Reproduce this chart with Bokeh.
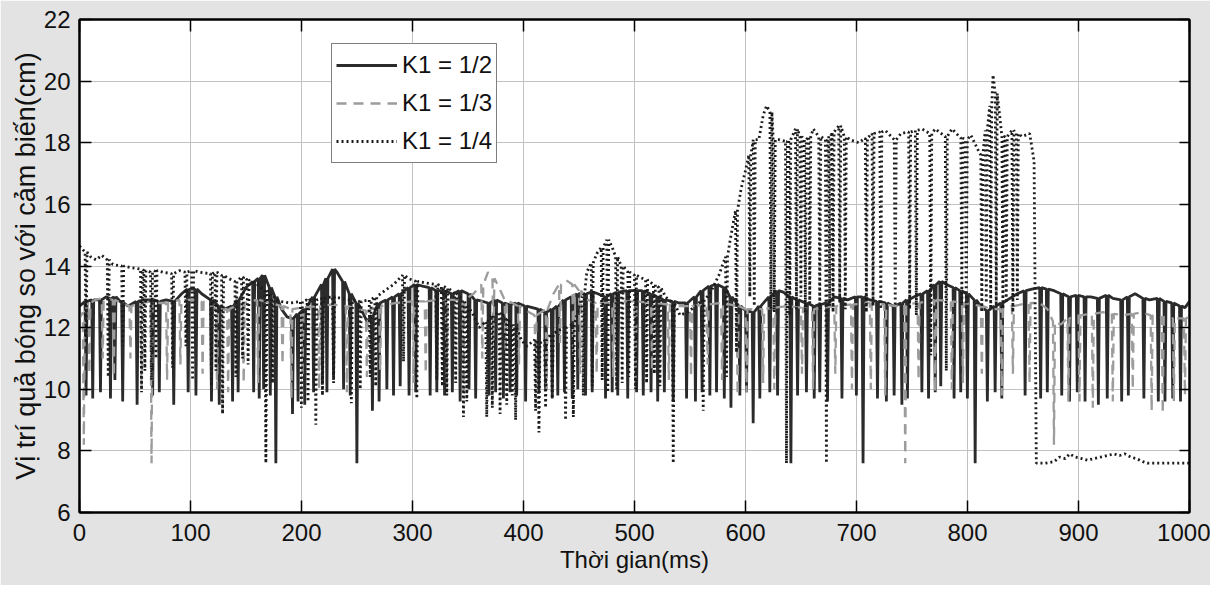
from bokeh.plotting import figure
from bokeh.models import LinearAxis, Range1d, Legend, LegendItem, FixedTicker
from bokeh.embed import file_html
from bokeh.resources import INLINE

# ---------------- data ----------------
x_ticks = [0, 100, 200, 300, 400, 500, 600, 700, 800, 900, 1000]
y_ticks = [6, 8, 10, 12, 14, 16, 18, 20, 22]
series_names = ["K1 = 1/2", "K1 = 1/3", "K1 = 1/4"]

# K1 = 1/2 : time (ms), upper value, dip bottom (None = no dip)
s1_t = [0, 5, 11, 18, 24, 27, 31, 38, 44, 51, 58, 65, 71, 78, 84, 92, 97, 104, 110, 118,
        125, 131, 137, 142, 150, 156, 161, 165, 171, 176, 182, 187, 191, 196, 202, 210, 218, 222, 228, 232,
        237, 243, 249, 255, 259, 263, 269, 276, 282, 288, 296, 302, 309, 315, 321, 328, 335, 342, 350, 356,
        363, 368, 374, 381, 387, 393, 401, 408, 413, 419, 425, 430, 436, 443, 448, 455, 461, 467, 473, 479,
        484, 493, 501, 507, 514, 520, 526, 534, 540, 546, 554, 560, 567, 573, 580, 586, 594, 600, 606, 612,
        621, 628, 634, 640, 646, 654, 661, 666, 673, 680, 686, 692, 699, 705, 712, 718, 726, 733, 740, 745,
        752, 758, 764, 770, 775, 781, 787, 793, 799, 806, 812, 817, 824, 830, 836, 845, 851, 858, 865, 871,
        878, 884, 891, 898, 905, 911, 917, 925, 931, 938, 944, 951, 958, 964, 971, 977, 984, 991, 996, 1000]
s1_top = [12.7, 12.85, 12.9, 12.9, 13.0, 12.95, 13.0, 12.8, 12.7, 12.85, 12.9, 12.9, 12.85, 12.9, 12.85, 13.1, 13.25, 13.25, 13.1, 12.9,
          12.7, 12.6, 12.7, 12.9, 13.3, 13.5, 13.6, 13.7, 13.3, 13.0, 12.6, 12.35, 12.3, 12.45, 12.6, 13.0, 13.4, 13.6, 13.9, 13.8,
          13.5, 13.1, 12.8, 12.5, 12.2, 12.4, 12.8, 12.9, 13.0, 13.1, 13.3, 13.4, 13.35, 13.3, 13.2, 13.2, 13.1, 13.2, 13.1, 12.9,
          12.85, 12.8, 12.9, 12.8, 12.75, 12.8, 12.7, 12.65, 12.6, 12.5, 12.6, 12.7, 12.9, 13.0, 13.1, 13.1, 13.15, 13.1, 13.0, 13.1,
          13.15, 13.2, 13.2, 13.2, 13.1, 13.0, 12.9, 12.85, 12.8, 12.8, 13.0, 13.2, 13.35, 13.4, 13.3, 13.0, 12.7, 12.55, 12.5, 12.7,
          13.0, 13.2, 13.15, 13.0, 12.9, 12.8, 12.7, 12.75, 12.8, 13.0, 12.95, 12.9, 13.0, 13.0, 12.9, 12.85, 12.8, 12.7, 12.8, 12.9,
          13.0, 13.1, 13.2, 13.4, 13.5, 13.4, 13.3, 13.2, 13.1, 12.9, 12.7, 12.55, 12.7, 12.8, 12.9, 13.1, 13.2, 13.25, 13.3, 13.25,
          13.2, 13.1, 13.0, 13.05, 13.0, 13.0, 12.95, 13.05, 12.95, 12.9, 13.0, 13.1, 12.95, 12.9, 12.95, 12.85, 12.8, 12.7, 12.65, 12.85]
s1_low = [None, 9.8, 9.7, 9.9, None, 9.7, 10.3, 9.6, None, 9.5, None, 9.8, 9.9, None, 9.5, None, 9.9, 9.8, None, 9.6,
          9.5, None, 9.6, 9.9, None, 9.9, 9.7, 10.0, 9.8, 7.6, None, None, 9.2, 9.6, 9.5, 9.9, 10.2, 9.9, 10.4, None,
          10.0, 9.8, 7.6, None, None, 9.3, 9.6, 10.0, 9.8, 10.1, 9.8, 9.9, None, 9.8, 9.9, 9.8, 9.9, 9.6, 10.0, 9.7,
          None, 9.8, 9.9, 9.7, 9.9, 9.8, 9.6, None, 9.9, 10.0, 9.7, 9.8, 9.9, 9.7, 10.0, 9.8, 9.9, None, 9.7, 9.9,
          9.8, 9.7, 9.9, 9.8, 9.9, 9.6, 9.9, 9.6, None, 9.7, 9.6, 9.9, 9.8, 9.9, 9.7, 9.4, 9.8, 9.9, 8.9, 9.7,
          9.9, 9.8, None, 7.6, 9.8, 9.9, 9.7, 9.9, 9.6, None, 9.7, None, 9.8, 7.6, None, 9.7, 9.6, 9.8, 9.5, 9.7,
          None, 9.9, 9.7, 9.9, 10.1, None, 9.7, 9.9, 9.7, 7.6, None, 9.6, 9.9, 9.7, None, None, 9.8, None, 9.7, 9.9,
          None, 9.8, 9.6, 9.9, 9.6, None, 9.5, 9.7, None, 9.6, 9.8, None, 9.7, None, 9.6, 9.6, 9.7, 9.6, None, None]

# K1 = 1/3
s2_t = [0, 3, 8, 14, 20, 30, 38, 45, 55, 64, 72, 78, 90, 100, 110, 123, 133, 147, 160, 172,
        182, 190, 200, 215, 228, 240, 250, 258, 270, 285, 300, 311, 322, 330, 345, 355, 362, 368, 372, 378,
        383, 395, 405, 410, 420, 427, 432, 438, 444, 450, 458, 465, 480, 490, 500, 515, 530, 540, 550, 565,
        578, 592, 600, 615, 625, 638, 650, 660, 670, 680, 695, 712, 725, 735, 743, 755, 770, 785, 795, 805,
        812, 822, 830, 840, 855, 865, 872, 877, 884, 890, 900, 912, 922, 930, 940, 948, 957, 965, 975, 985,
        995, 1000]
s2_top = [12.3, 12.5, 12.8, 12.9, 12.95, 12.9, 12.8, 12.7, 12.8, 12.85, 12.8, 12.8, 12.9, 12.9, 12.85, 12.6, 12.6, 12.8, 12.9, 12.8,
          12.7, 12.6, 12.65, 12.7, 12.75, 12.7, 12.6, 12.55, 12.7, 12.8, 12.85, 12.85, 12.9, 12.9, 12.9, 13.1, 13.4, 13.8, 13.6, 13.3,
          12.9, 12.7, 12.5, 12.4, 12.6, 13.1, 13.4, 13.55, 13.4, 13.2, 12.9, 12.8, 12.8, 12.85, 12.85, 12.8, 12.75, 12.7, 12.7, 12.75,
          12.8, 12.7, 12.6, 12.6, 12.65, 12.7, 12.65, 12.6, 12.65, 12.7, 12.75, 12.8, 12.75, 12.7, 12.75, 12.8, 12.9, 12.85, 12.8, 12.75,
          12.7, 12.6, 12.6, 12.7, 12.8, 12.8, 12.6, 12.2, 12.1, 12.3, 12.4, 12.45, 12.5, 12.45, 12.4, 12.45, 12.5, 12.4, 12.35, 12.3,
          12.3, 12.35]
s2_low = [None, 8.2, 10.5, None, 11.0, 10.4, None, 11.0, 10.0, 7.6, None, 10.3, 10.8, None, 10.5, 10.0, 9.9, 10.2, 10.2, None,
          10.8, 9.7, 10.4, 10.0, None, 9.9, None, 10.4, 10.6, None, 10.2, 10.5, None, 10.2, 9.9, None, 11.0, None, 11.6, None,
          11.2, 10.8, None, 10.6, 10.0, None, 11.5, None, 11.0, 10.5, None, 10.5, 10.4, None, 10.3, 10.6, 10.3, None, 10.4, 10.8,
          10.3, 9.8, 9.9, 10.2, 10.0, None, 10.5, 10.0, None, 10.5, 10.0, 10.0, 9.8, None, 7.6, 10.3, 9.9, 10.0, 10.2, None,
          10.5, None, 9.8, 10.5, 10.2, None, None, 8.2, None, 9.6, 9.6, 9.4, None, 9.6, None, 10.0, None, 9.3, 9.2, 9.6,
          9.8, None]

# K1 = 1/4
s3_t = [0, 5, 10, 15, 20, 25, 30, 38, 46, 55, 58, 64, 68, 75, 83, 90, 95, 101, 108, 118,
        122, 128, 134, 140, 146, 151, 160, 167, 173, 180, 190, 199, 205, 212, 218, 228, 236, 244, 252, 261,
        266, 275, 283, 291, 296, 303, 312, 321, 326, 330, 338, 345, 348, 355, 360, 366, 371, 378, 384, 389,
        392, 398, 403, 410, 413, 419, 425, 431, 437, 444, 451, 453, 457, 461, 466, 470, 475, 480, 483, 488,
        494, 500, 507, 510, 517, 522, 528, 534, 541, 548, 555, 561, 568, 576, 582, 586, 591, 596, 600, 603,
        607, 612, 616, 619, 622, 625, 630, 636, 639, 645, 649, 653, 657, 661, 666, 672, 675, 678, 684, 689,
        694, 702, 708, 714, 721, 726, 734, 740, 747, 753, 759, 766, 771, 780, 786, 794, 798, 803, 809, 812,
        816, 820, 823, 825, 828, 831, 834, 840, 844, 849, 856, 860, 862, 870, 878, 883, 888, 892, 897, 903,
        908, 914, 920, 926, 932, 937, 942, 947, 952, 958, 962, 1000]
s3_top = [14.65, 14.45, 14.3, 14.2, 14.35, 14.2, 14.05, 14.0, 13.95, 13.9, 13.85, 13.8, 13.85, 13.8, 13.75, 13.85, 13.8, 13.85, 13.8, 13.75,
          13.8, 13.7, 13.6, 13.5, 13.65, 13.55, 13.4, 13.2, 13.0, 12.85, 12.8, 12.85, 12.9, 12.9, 12.95, 13.0, 12.95, 12.9, 12.85, 12.9,
          13.0, 13.2, 13.4, 13.7, 13.6, 13.5, 13.45, 13.4, 13.35, 13.3, 13.1, 12.9, 12.7, 12.4, 12.0, 12.2, 12.4, 12.5, 12.3, 12.1,
          12.0, 11.6, 11.4, 11.6, 11.5, 11.6, 11.8, 11.9, 12.0, 12.1, 12.8, 13.0, 13.8, 14.1, 14.4, 14.6, 14.85, 14.6, 14.3, 14.0,
          13.8, 13.7, 13.6, 13.55, 13.4, 13.3, 13.0, 12.8, 12.4, 12.5, 12.7, 12.9, 13.1, 13.7, 14.3, 14.8, 15.8, 16.5, 17.1, 17.6,
          18.1, 18.1, 18.9, 19.2, 19.0, 18.1, 18.1, 18.05, 18.1, 18.45, 18.2, 18.1, 18.2, 18.45, 18.2, 18.1, 18.2, 18.35, 18.55, 18.2,
          18.1, 18.0, 18.15, 18.3, 18.35, 18.4, 18.1, 18.3, 18.35, 18.4, 18.45, 18.3, 18.45, 18.2, 18.45, 18.15, 18.1, 18.25, 17.8, 17.6,
          18.4, 19.2, 20.2, 19.6, 19.2, 18.2, 18.2, 18.4, 18.3, 18.2, 18.3, 17.4, 7.6, 7.6, 7.65, 7.8, 7.75, 7.9, 7.8, 7.75,
          7.7, 7.75, 7.8, 7.85, 7.9, 7.85, 7.9, 7.8, 7.75, 7.65, 7.6, 7.6]
s3_low = [None, 11.5, None, None, None, 10.4, None, 11.4, None, 9.9, 10.6, 10.3, 11.0, None, 10.7, None, 11.4, 10.3, None, 10.1,
          10.6, 9.2, None, 10.4, 11.0, 10.8, None, 7.6, 10.2, None, None, 9.4, 9.6, 8.85, 9.8, 10.2, None, 9.55, 10.0, 10.4,
          10.1, None, None, 10.9, None, 9.7, None, 10.3, 10.1, 9.8, 10.2, 9.1, 9.6, None, None, 9.1, 9.4, 9.2, 9.5, 9.8,
          9.0, None, None, 9.3, 8.6, 9.4, 9.7, None, 9.0, 9.1, None, 9.8, None, 10.1, None, 10.3, 9.9, None, 10.0, 10.2,
          10.4, 10.0, None, 10.2, 10.5, 10.1, None, 7.6, None, None, None, 9.3, None, None, 10.4, None, 11.2, None, None, 13.0,
          12.7, None, None, None, 12.6, 12.5, None, 7.6, 12.4, 12.6, 13.0, 12.5, 12.8, None, 12.6, 7.6, 12.7, 12.5, 12.8, 12.6,
          None, None, 12.5, 12.7, 12.6, None, 12.7, None, 12.6, 12.4, None, 11.1, None, 10.6, None, 12.8, 12.5, None, None, 12.5,
          12.8, 12.6, None, 12.7, None, 12.6, 12.8, 12.5, 12.9, None, None, None, None, None, None, None, None, None, None, None,
          None, None, None, None, None, None, None, None, None, None, None, None]


def build_path(ts, tops, lows, w=1.8):
    xs, ys = [], []
    for t, top, low in zip(ts, tops, lows):
        xs.append(t)
        ys.append(top)
        if low is not None:
            xs += [t + w / 2, t + w]
            ys += [low, top]
    return xs, ys


x1, y1 = build_path(s1_t, s1_top, s1_low)
x2, y2 = build_path(s2_t, s2_top, s2_low)
x3, y3 = build_path(s3_t, s3_top, s3_low)

# ---------------- figure ----------------
FONT = "Liberation Sans"
TEXT = "#111111"

p = figure(frame_width=1110, frame_height=493,
           x_range=Range1d(0, 1000), y_range=Range1d(6, 22),
           output_backend="svg", toolbar_location=None,
           min_border_left=79, min_border_right=21, min_border_top=19, min_border_bottom=73,
           background_fill_color="white", border_fill_color="#e3e3e3")

p.outline_line_color = "black"
p.outline_line_width = 2

for ax, ticks in ((p.xaxis[0], x_ticks), (p.yaxis[0], y_ticks)):
    ax.ticker = FixedTicker(ticks=ticks)
    ax.major_tick_in = 12
    ax.major_tick_out = 0
    ax.minor_tick_line_color = None
    ax.axis_line_width = 2
    ax.major_tick_line_width = 1.5
    ax.major_label_text_font = FONT
    ax.major_label_text_font_size = "24px"
    ax.major_label_text_color = TEXT
    ax.axis_label_text_font = FONT
    ax.axis_label_text_font_style = "normal"
    ax.axis_label_text_color = TEXT

p.xaxis.major_label_standoff = 11
p.yaxis.major_label_standoff = 9
p.xaxis.axis_label = "Thời gian(ms)"
p.xaxis.axis_label_text_font_size = "24px"
p.xaxis.axis_label_standoff = 2
p.yaxis.axis_label = "Vị trí quả bóng so với cảm biến(cm)"
p.yaxis.axis_label_text_font_size = "27px"
p.yaxis.axis_label_standoff = 0

top_ax = LinearAxis(ticker=FixedTicker(ticks=x_ticks), major_label_text_font_size="0px",
                    major_label_text_color=None,
                    major_tick_in=12, major_tick_out=0, minor_tick_line_color=None,
                    axis_line_width=2, major_tick_line_width=1.5, major_label_standoff=0)
right_ax = LinearAxis(ticker=FixedTicker(ticks=y_ticks), major_label_text_font_size="0px",
                      major_label_text_color=None,
                      major_tick_in=10, major_tick_out=0, minor_tick_line_color=None,
                      axis_line_width=2, major_tick_line_width=1.5, major_label_standoff=0)
p.add_layout(top_ax, "above")
p.add_layout(right_ax, "right")

p.xgrid.ticker = FixedTicker(ticks=x_ticks)
p.ygrid.ticker = FixedTicker(ticks=y_ticks)
p.grid.grid_line_color = "#c2c2c2"
p.grid.grid_line_width = 1

r1 = p.line(x1, y1, line_color="#2b2b2b", line_width=2.8)
r2 = p.line(x2, y2, line_color="#9c9c9c", line_width=2.3, line_dash="10 7")
r3 = p.line(x3, y3, line_color="#1c1c1c", line_width=2.8, line_dash="2 3")

legend = Legend(items=[LegendItem(label=series_names[0], renderers=[r1]),
                       LegendItem(label=series_names[1], renderers=[r2]),
                       LegendItem(label=series_names[2], renderers=[r3])],
                location=(252, 349), margin=0, padding=4, spacing=4,
                glyph_width=61, glyph_height=34, label_height=34, label_standoff=5,
                label_text_font=FONT, label_text_font_size="24px", label_text_color=TEXT,
                border_line_color="black", border_line_width=1.5,
                background_fill_color="white", background_fill_alpha=1.0)
p.add_layout(legend, "center")

open("out.html", "w").write(file_html(p, INLINE))
